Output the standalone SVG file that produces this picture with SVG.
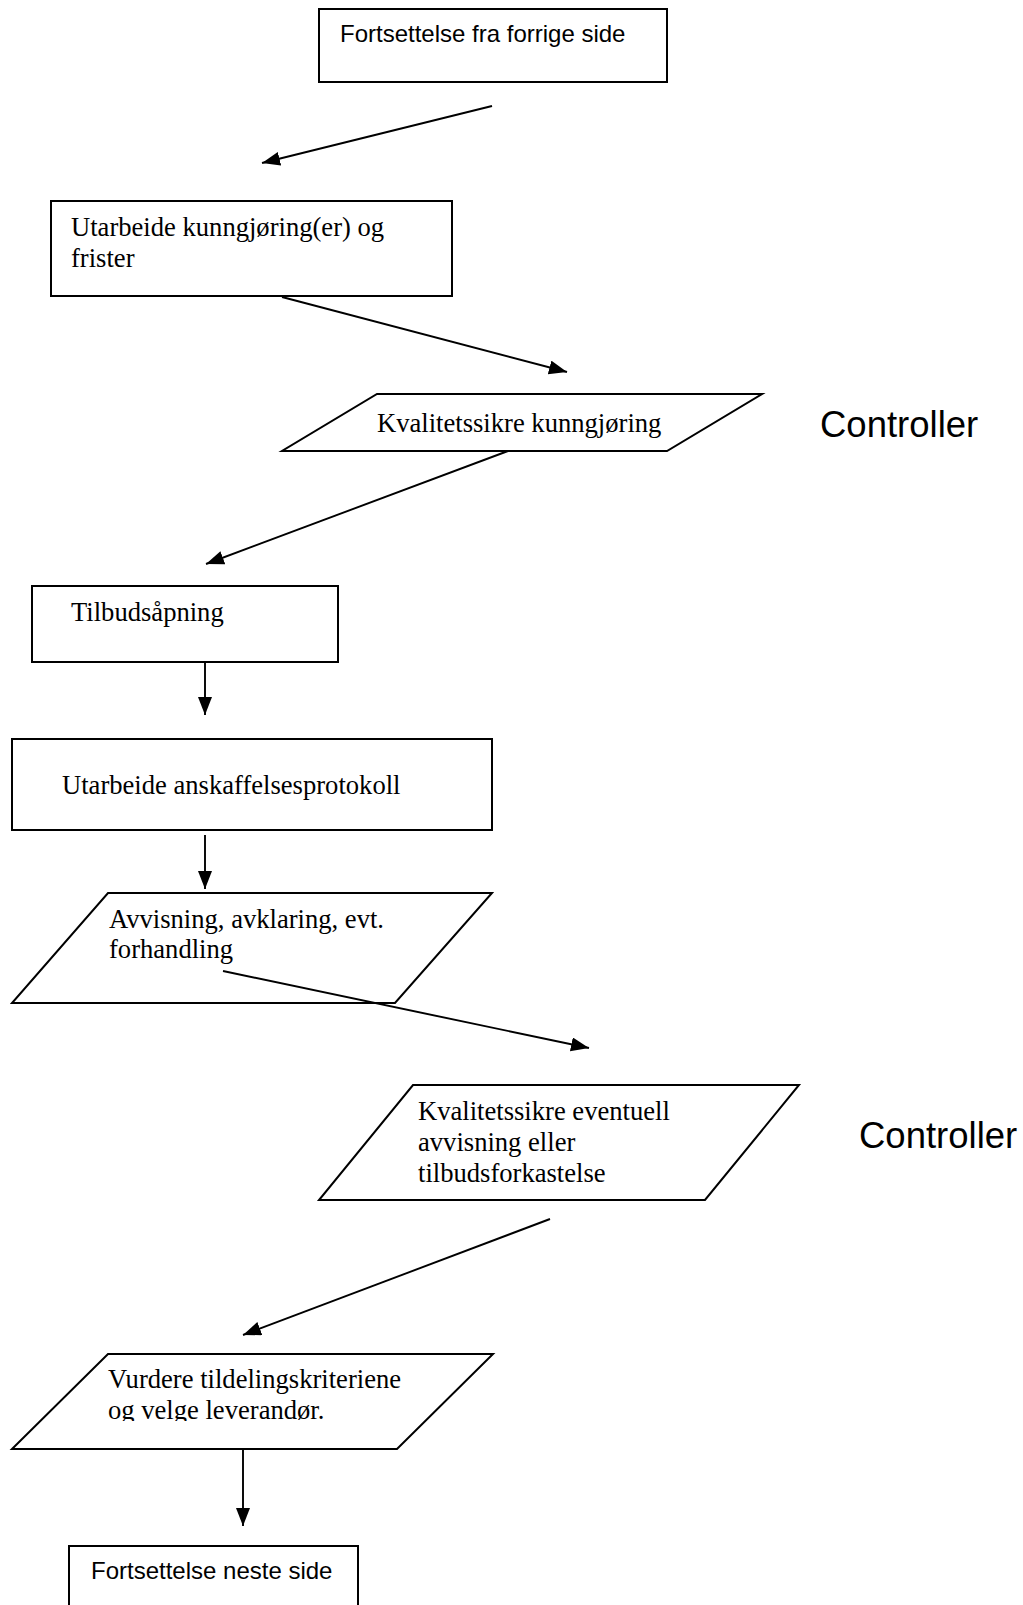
<svg xmlns="http://www.w3.org/2000/svg" width="1023" height="1605" viewBox="0 0 1023 1605">
<style>
.shape{fill:#fff;stroke:#000;stroke-width:2}
.serif{font-family:"Liberation Serif","Times New Roman",serif;font-size:26.6px;fill:#000}
.sans{font-family:"Liberation Sans",Arial,sans-serif;font-size:24px;fill:#000}
.ctrl{font-family:"Liberation Sans",Arial,sans-serif;font-size:36.5px;fill:#000}
.conn{fill:none;stroke:#000;stroke-width:1.9}
</style>
<defs>
<marker id="ah" markerUnits="userSpaceOnUse" markerWidth="20" markerHeight="16" refX="18" refY="7" orient="auto">
<path d="M0,0 L18,7 L0,14 z" fill="#000"/>
</marker>
<clipPath id="clipVurdere"><rect x="0" y="1360" width="520" height="61"/></clipPath>
</defs>
<rect width="1023" height="1605" fill="#fff"/>
<g id="n1">
<rect class="shape" x="319" y="9" width="348" height="73"/>
<text class="sans" x="340" y="42">Fortsettelse fra forrige side</text>
</g>
<g id="n2">
<rect class="shape" x="51" y="201" width="401" height="95"/>
<text class="serif" x="71" y="236">Utarbeide kunngjøring(er) og</text>
<text class="serif" x="71" y="267">frister</text>
</g>
<g id="n3">
<polygon class="shape" points="377,394 762,394 667,451 282,451"/>
<text class="serif" x="377" y="432">Kvalitetssikre kunngjøring</text>
</g>
<g id="c1">
<text class="ctrl" x="820" y="437">Controller</text>
</g>
<g id="n4">
<rect class="shape" x="32" y="586" width="306" height="76"/>
<text class="serif" x="71" y="621">Tilbudsåpning</text>
</g>
<g id="n5">
<rect class="shape" x="12" y="739" width="480" height="91"/>
<text class="serif" x="62" y="794">Utarbeide anskaffelsesprotokoll</text>
</g>
<g id="n6">
<polygon class="shape" points="108,893 492,893 395,1003 12,1003"/>
<text class="serif" x="109" y="928">Avvisning, avklaring, evt.</text>
<text class="serif" x="109" y="958">forhandling</text>
</g>
<g id="n7">
<polygon class="shape" points="413,1085 799,1085 705,1200 319,1200"/>
<text class="serif" x="418" y="1120">Kvalitetssikre eventuell</text>
<text class="serif" x="418" y="1151">avvisning eller</text>
<text class="serif" x="418" y="1182">tilbudsforkastelse</text>
</g>
<g id="c2">
<text class="ctrl" x="859" y="1148">Controller</text>
</g>
<g id="n8">
<polygon class="shape" points="108,1354 493,1354 397,1449 12,1449"/>
<text class="serif" x="108" y="1388">Vurdere tildelingskriteriene</text>
<text class="serif" x="108" y="1419" clip-path="url(#clipVurdere)">og velge leverandør.</text>
</g>
<g id="n9">
<rect class="shape" x="69" y="1546" width="289" height="80"/>
<text class="sans" x="91" y="1579">Fortsettelse neste side</text>
</g>
<g id="connectors">
<line class="conn" x1="492" y1="106" x2="262" y2="163" marker-end="url(#ah)"/>
<line class="conn" x1="282" y1="297" x2="567" y2="372" marker-end="url(#ah)"/>
<line class="conn" x1="508" y1="451" x2="206" y2="564" marker-end="url(#ah)"/>
<line class="conn" x1="205" y1="662" x2="205" y2="715" marker-end="url(#ah)"/>
<line class="conn" x1="205" y1="835" x2="205" y2="889" marker-end="url(#ah)"/>
<line class="conn" x1="223" y1="971" x2="589" y2="1048" marker-end="url(#ah)"/>
<line class="conn" x1="550" y1="1219" x2="243" y2="1335" marker-end="url(#ah)"/>
<line class="conn" x1="243" y1="1450" x2="243" y2="1526" marker-end="url(#ah)"/>
</g>
</svg>
